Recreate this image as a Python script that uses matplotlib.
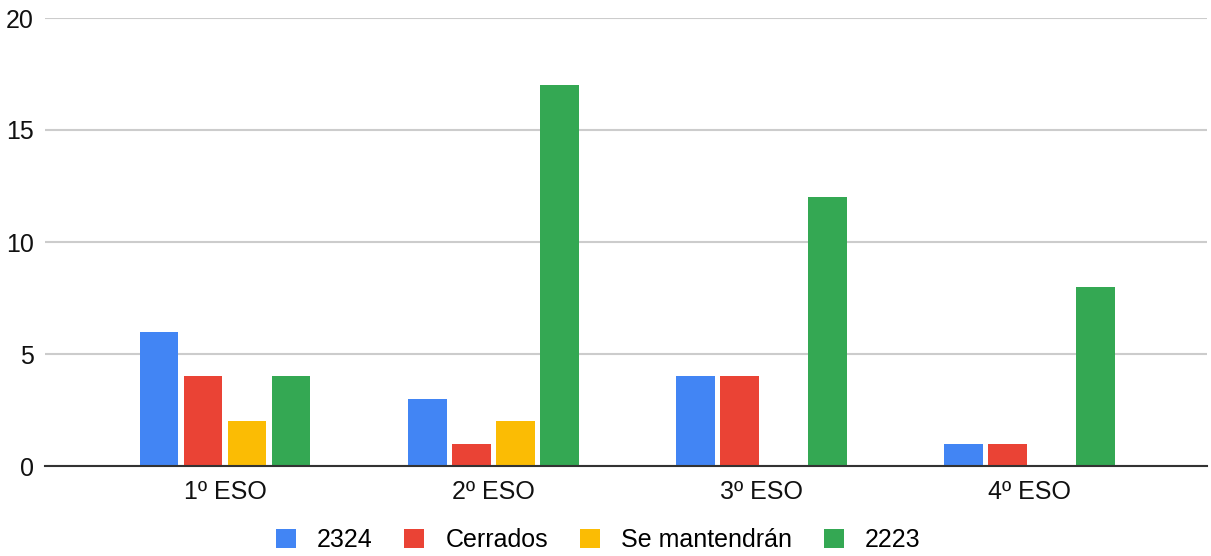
import matplotlib
matplotlib.use("Agg")
import matplotlib.pyplot as plt
import numpy as np
from matplotlib.patches import Patch

categories = ["1º ESO", "2º ESO", "3º ESO", "4º ESO"]
series_names = ["2324", "Cerrados", "Se mantendrán", "2223"]
s2324 = [6, 3, 4, 1]
cerrados = [4, 1, 4, 1]
mantendran = [2, 2, 0, 0]
s2223 = [4, 17, 12, 8]
yticks = [0, 5, 10, 15, 20]
colors = ["#4285F4", "#EA4335", "#FBBC04", "#34A853"]

plt.rcParams['font.family'] = ['Liberation Sans', 'DejaVu Sans']

fig = plt.figure(figsize=(12.11, 5.56), dpi=100)
ax = fig.add_axes([45/1211, 1 - 466/556, (1207-45)/1211, (466-18)/556])

x = np.arange(len(categories))
w = 0.145
step = 0.164
data = [s2324, cerrados, mantendran, s2223]
for i, (vals, c) in enumerate(zip(data, colors)):
    ax.bar(x + (i - 1.5) * step, vals, width=w, color=c, zorder=3)

ax.set_xlim(-0.671, 3.66)
ax.set_ylim(0, 20)
ax.set_yticks(yticks)
ax.set_yticklabels([str(t) for t in yticks], fontsize=18, color="#111111")
ax.set_xticks(x)
ax.set_xticklabels(categories, fontsize=18, color="#111111")
ax.tick_params(axis='both', length=0)
ax.tick_params(axis='y', pad=8)
ax.tick_params(axis='x', pad=10)
ax.grid(axis='y', color="#CCCCCC", linewidth=1.5, zorder=0)
for s in ['top', 'right', 'left']:
    ax.spines[s].set_visible(False)
ax.spines['bottom'].set_color("#333333")
ax.spines['bottom'].set_linewidth(1.5)
ax.spines['bottom'].set_zorder(4)

handles = [Patch(facecolor=c, label=n) for c, n in zip(colors, series_names)]
fig.legend(handles=handles, loc='center', bbox_to_anchor=(0.494, 1 - 540/556),
           ncol=4, frameon=False, fontsize=18, handlelength=0.8, handleheight=0.8,
           columnspacing=1.28, handletextpad=0.84)

fig.savefig("out.png", dpi=100)
